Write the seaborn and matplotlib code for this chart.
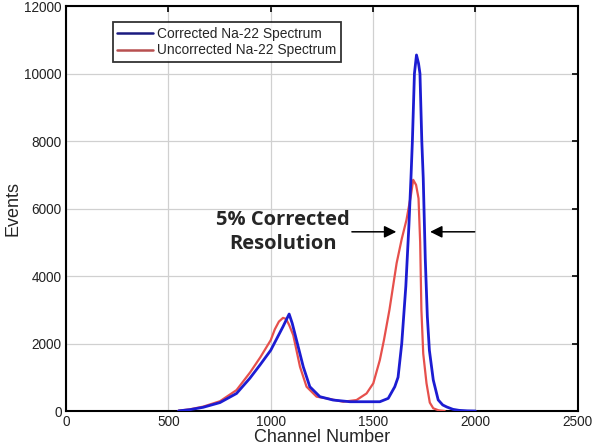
import numpy as np
import pandas as pd
import seaborn as sns
import matplotlib.pyplot as plt

# spectrum (channel, events)
corr_x = [550, 605, 670, 752, 833, 898, 947, 1000, 1030, 1060, 1080, 1090, 1105, 1126,
          1159, 1191, 1240, 1305, 1387, 1468, 1533, 1574, 1606, 1622, 1640, 1660,
          1675, 1685, 1692, 1702, 1712, 1722, 1729, 1738, 1745, 1755, 1765, 1775,
          1794, 1818, 1840, 1860, 1890, 1920, 1960, 2000]
corr_y = [5, 40, 110, 250, 520, 970, 1360, 1800, 2150, 2500, 2750, 2874, 2600, 2100,
          1310, 720, 425, 325, 275, 275, 275, 375, 720, 1000, 2000, 3700,
          5500, 6900, 8000, 10000, 10550, 10300, 10000, 8000, 6900, 4500, 2800, 1800,
          920, 330, 180, 120, 50, 20, 5, 0]

unc_x = [550, 605, 670, 752, 833, 900, 950, 980, 1000, 1020, 1040, 1060, 1075,
         1090, 1110, 1143, 1175, 1224, 1273, 1354, 1419, 1468, 1501, 1533, 1553,
         1580, 1615, 1640, 1663, 1685, 1696, 1710, 1722, 1730, 1736, 1745, 1761,
         1777, 1794, 1820, 1850]
unc_y = [10, 50, 130, 290, 620, 1150, 1600, 1900, 2100, 2420, 2650, 2760, 2730,
         2550, 2250, 1310, 720, 425, 375, 275, 325, 520, 820, 1510, 2100,
         3000, 4380, 5100, 5660, 6400, 6850, 6700, 6300, 5000, 3000, 1700, 820,
         250, 80, 20, 0]

labels = ['Corrected Na-22 Spectrum', 'Uncorrected Na-22 Spectrum']

df = pd.concat([
    pd.DataFrame({'Channel': corr_x, 'Events': corr_y, 'Spectrum': labels[0]}),
    pd.DataFrame({'Channel': unc_x, 'Events': unc_y, 'Spectrum': labels[1]}),
])

sns.set_style('white')
plt.rcParams['font.family'] = ['Liberation Sans', 'DejaVu Sans']

fig = plt.figure(figsize=(6, 4.47), dpi=100)
ax = fig.add_axes([0.11, 0.0805, 0.853, 0.906])

sns.lineplot(data=df[df.Spectrum == labels[1]], x='Channel', y='Events',
             color='#e6504c', lw=1.6, ax=ax, label=labels[1], zorder=3)
sns.lineplot(data=df[df.Spectrum == labels[0]], x='Channel', y='Events',
             color='#1c1cd2', lw=2.0, ax=ax, label=labels[0], zorder=4)

ax.set_xlim(0, 2500)
ax.set_ylim(0, 12000)
ax.set_xticks(range(0, 2501, 500))
ax.set_yticks(range(0, 12001, 2000))
ax.grid(True, color='#d0d0d0', lw=0.9)
ax.set_axisbelow(True)
ax.tick_params(direction='in', length=4, width=1.2, top=True, right=True,
               labelsize=9.8, colors='black', labelcolor='#222222', pad=3)
for s in ax.spines.values():
    s.set_color('black')
    s.set_linewidth(1.5)
ax.set_xlabel('Channel Number', fontsize=13, labelpad=0)
ax.set_ylabel('Events', fontsize=13, labelpad=2)

h, l = ax.get_legend_handles_labels()
leg = ax.legend(h[::-1], l[::-1], loc='upper left', bbox_to_anchor=(0.091, 0.961),
                fontsize=9.9, frameon=True, fancybox=False, handlelength=2.6,
                borderpad=0.35, labelspacing=0.2, handletextpad=0.3,
                borderaxespad=0.0)
leg.get_frame().set_edgecolor('black')
leg.get_frame().set_linewidth(1.3)
leg.legend_handles[0].set_color('#1a1a80')
leg.legend_handles[0].set_linewidth(1.8)
leg.legend_handles[1].set_color('#b85050')
leg.legend_handles[1].set_linewidth(1.8)

ax.text(1058, 5300, '5% Corrected\nResolution', ha='center', va='center',
        fontsize=14.5, fontweight='bold', family=['Open Sans', 'DejaVu Sans'],
        linespacing=1.3)
arrow = dict(arrowstyle='-|>', color='black', lw=1.1, mutation_scale=18)
ax.annotate('', xy=(1627, 5310), xytext=(1383, 5310), arrowprops=arrow)
ax.annotate('', xy=(1765, 5310), xytext=(2010, 5310), arrowprops=arrow)

fig.savefig('out.png', dpi=100)
